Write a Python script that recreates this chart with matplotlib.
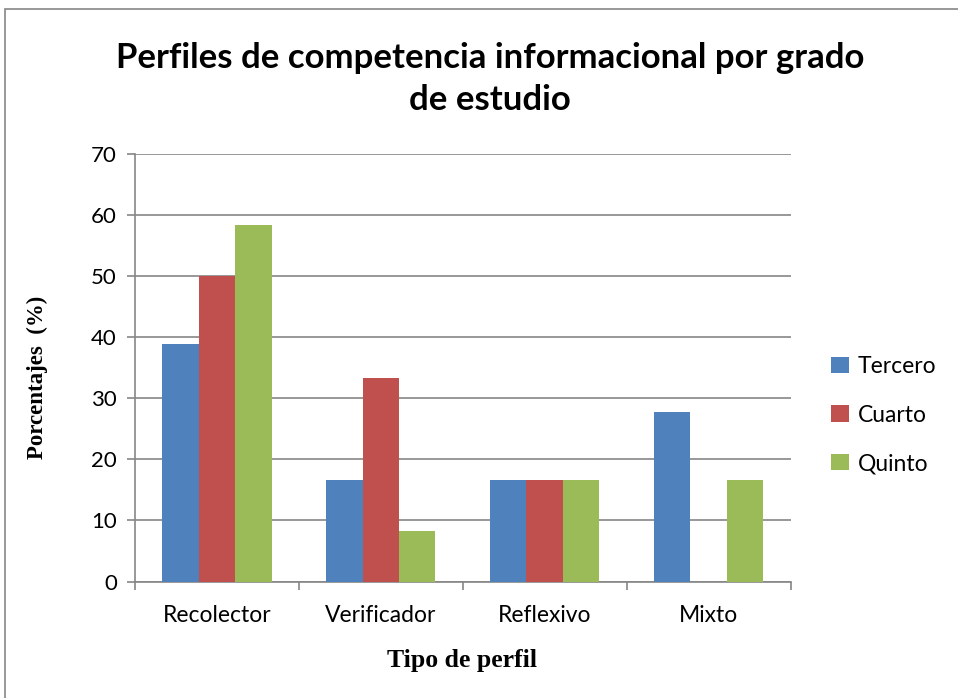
import matplotlib
matplotlib.use("Agg")
import matplotlib.pyplot as plt
import numpy as np
from matplotlib.patches import Rectangle

categories = ["Recolector", "Verificador", "Reflexivo", "Mixto"]
series_names = ["Tercero", "Cuarto", "Quinto"]
tercero = [38.9, 16.7, 16.7, 27.8]
cuarto = [50.0, 33.3, 16.7, 0.0]
quinto = [58.3, 8.3, 16.7, 16.7]
colors = ["#4F81BD", "#C0504D", "#9BBB59"]
yticks = [0, 10, 20, 30, 40, 50, 60, 70]

W, H = 958, 698
fig = plt.figure(figsize=(W / 100, H / 100), dpi=100)
fig.patch.set_facecolor("white")
# outer chart border
fig.add_artist(Rectangle((5 / W, -0.01), 1.02, 1 - 9 / H + 0.01, transform=fig.transFigure,
                         fill=False, edgecolor="#868686", linewidth=1.2))

ax = fig.add_axes([135 / W, 1 - 581.5 / H, 655.5 / W, (581.5 - 154) / H])
gray = "#868686"
n = len(series_names)
bw = 1 / (n + 1.5)
x = np.arange(len(categories)) + 0.5
for i, (vals, c, name) in enumerate(zip([tercero, cuarto, quinto], colors, series_names)):
    ax.bar(x + (i - 1) * bw, vals, width=bw, color=c, label=name, zorder=3, linewidth=0)

ax.set_xlim(0, len(categories))
ax.set_ylim(0, 70)
ax.set_yticks(yticks)
ax.set_yticklabels([str(t) for t in yticks], fontsize=16, family="Lato")
ax.set_xticks(x)
ax.set_xticklabels(categories, fontsize=16.5, family="Lato")
ax.set_xticks(np.arange(len(categories) + 1), minor=True)
ax.tick_params(axis="x", which="major", length=0, pad=17)
ax.tick_params(axis="x", which="minor", length=6, color=gray, width=1.2, direction="out")
ax.tick_params(axis="y", length=6, color=gray, width=1.2, pad=7)
ax.grid(axis="y", color=gray, linewidth=1.2, zorder=0)
for s in ["top", "right"]:
    ax.spines[s].set_visible(False)
for s in ["left", "bottom"]:
    ax.spines[s].set_color(gray)
    ax.spines[s].set_linewidth(1.2)

fig.text(37 / W, 1 - 377 / H, "Porcentajes  (%)", rotation=90, ha="center", va="center",
         fontsize=16.5, fontweight="bold", family="Liberation Serif")
fig.text(462 / W, 1 - 660 / H, "Tipo de perfil", ha="center", va="center",
         fontsize=18.5, fontweight="bold", family="Liberation Serif")

fig.text(490 / W, 1 - 79 / H, "Perfiles de competencia informacional por grado\nde estudio",
         ha="center", va="center", fontsize=25, fontweight="bold", family="Lato", linespacing=1.35)

leg = ax.legend(loc="center left", bbox_to_anchor=(820 / W, 1 - 415 / H), bbox_transform=fig.transFigure,
                frameon=False, prop={"family": "Lato", "size": 16.5}, handlelength=0.75, handleheight=0.75,
                labelspacing=1.2, handletextpad=0.4, borderpad=0)

fig.savefig("out.png", dpi=100)
